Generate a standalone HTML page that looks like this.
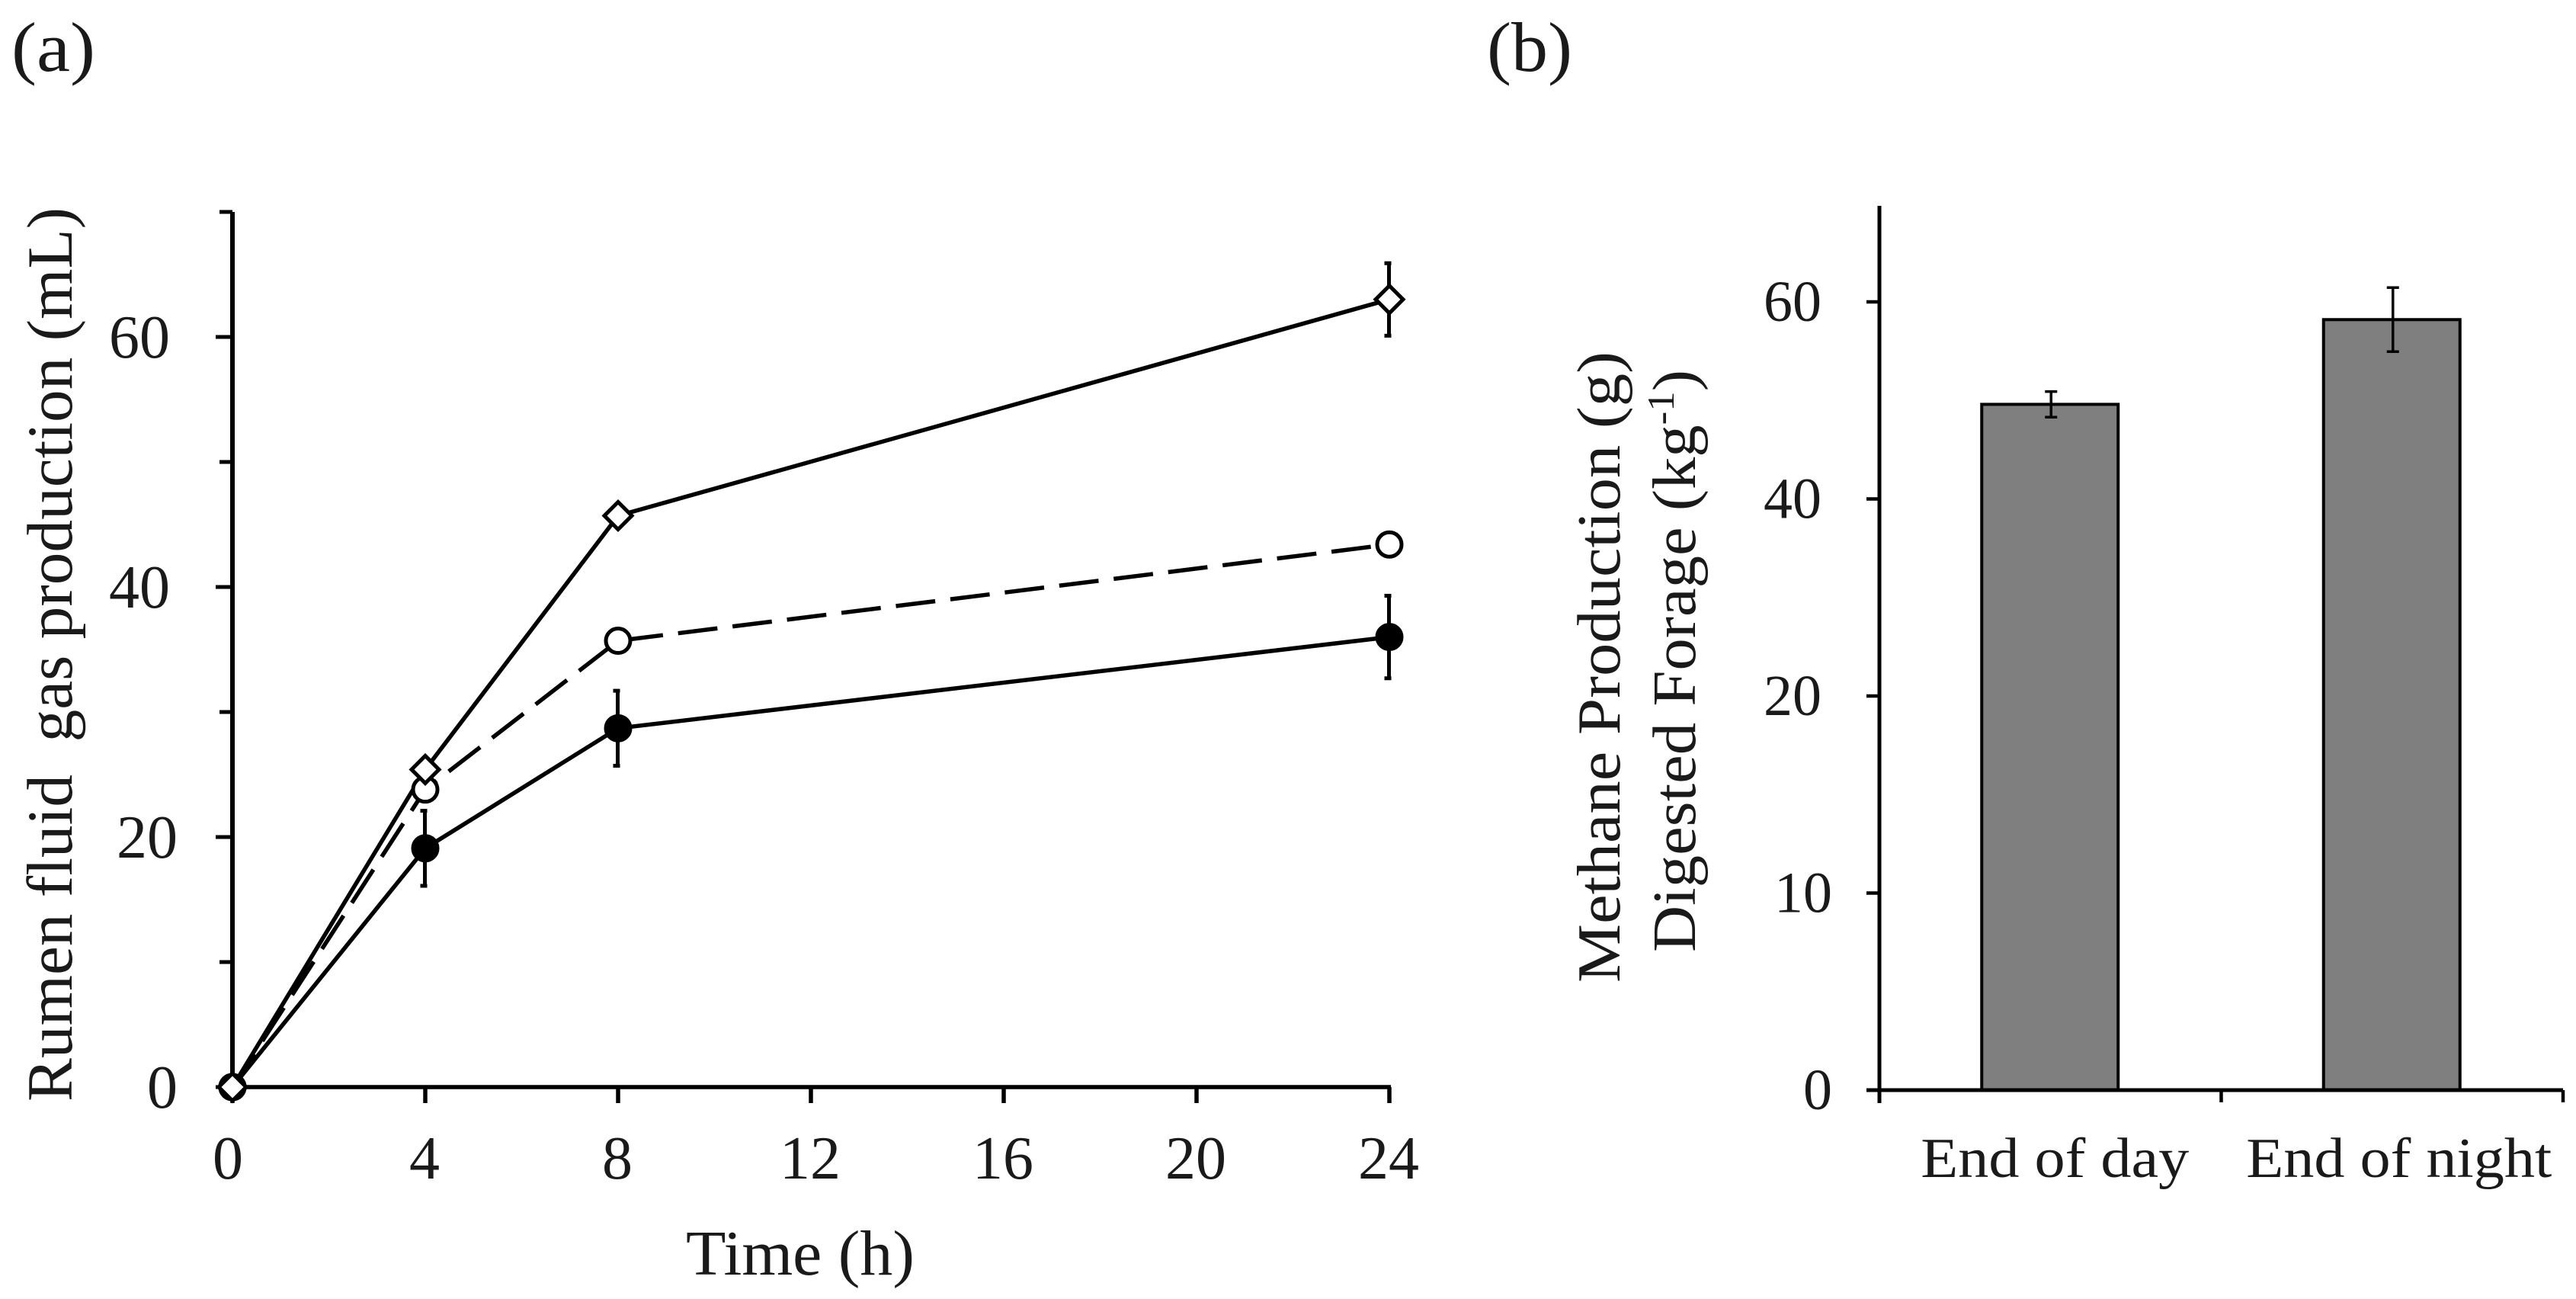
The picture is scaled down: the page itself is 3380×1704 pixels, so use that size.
<!DOCTYPE html>
<html lang="en">
<head>
<meta charset="utf-8">
<title>Rumen fluid gas production and methane production</title>
<style>
  html, body { margin: 0; padding: 0; background: #fff; }
  svg { display: block; }
  text { font-family: "Liberation Serif", "Times New Roman", serif; fill: #1a1a1a; white-space: pre; }
</style>
</head>
<body>
<svg id="figure" xmlns="http://www.w3.org/2000/svg" width="3380" height="1704" viewBox="0 0 3380 1704">
  <rect x="0" y="0" width="3380" height="1704" fill="#fff"/>
  <text x="15" y="93" font-size="92" textLength="110" lengthAdjust="spacingAndGlyphs">(a)</text>
  <text x="1951" y="93" font-size="92" textLength="112" lengthAdjust="spacingAndGlyphs">(b)</text>
  <text transform="translate(94,1445) rotate(-90)" font-size="85" textLength="1173" lengthAdjust="spacingAndGlyphs">Rumen fluid  gas production (mL)</text>
  <text x="900" y="1672" font-size="84" textLength="300" lengthAdjust="spacingAndGlyphs">Time (h)</text>
  <text transform="translate(2125,1289) rotate(-90)" font-size="80" textLength="828" lengthAdjust="spacingAndGlyphs">Methane Production (g)</text>
  <text transform="translate(2224,1249) rotate(-90)" font-size="80" textLength="764" lengthAdjust="spacingAndGlyphs">Digested Forage (kg<tspan font-size="50" dy="-28">-1</tspan><tspan dy="28">)</tspan></text>
  <g id="panel-a"></g>
  <g id="panel-b"></g>
</svg>
<script>
// Panel (a) data
const hourTicks = [0, 4, 8, 12, 16, 20, 24];
const sampleHours = [0, 4, 8, 24];
const gasFilled = [0, 19.1, 28.7, 36.0];
const gasFilledErr = [0, 3.0, 3.0, 3.3];
const gasOpenCircle = [0, 23.8, 35.7, 43.4];
const gasOpenCircleErr = [0, 0, 0, 0];
const gasDiamond = [0, 25.4, 45.7, 63.0];
const gasDiamondErr = [0, 0, 0, 2.9];
const gasMinorTicks = [0, 10, 20, 30, 40, 50, 60, 70];
const gasTickLabels = [0, 20, 40, 60];

// Panel (b) data
const methaneCategories = ['End of day', 'End of night'];
const methaneValues = [49.6, 58.2];
const methaneErrors = [1.3, 3.25];
const methaneTickLabels = [0, 10, 20, 40, 60];

const SVG_NS = 'http://www.w3.org/2000/svg';
function make(parent, tag, attrs, text) {
  const el = document.createElementNS(SVG_NS, tag);
  for (const k in attrs) el.setAttribute(k, attrs[k]);
  if (text !== undefined) el.textContent = text;
  parent.appendChild(el);
  return el;
}

// Panel (a) axes
const pa = document.getElementById('panel-a');
const ax = { x0: 305, stepX: 253, y0: 1426, pxPerUnit: 16.4 };
function xA(h) { return ax.x0 + hourTicks.indexOf(h) * ax.stepX; }
function yA(v) { return ax.y0 - v * ax.pxPerUnit; }

const aAxisY = make(pa, 'line', { x1: xA(0), x2: xA(0), y1: yA(70), y2: yA(0) + 3, stroke: '#000', 'stroke-width': 6 });


const aAxisX = make(pa, 'line', { x1: xA(0), x2: xA(24) + 2, y1: yA(0), y2: yA(0), stroke: '#000', 'stroke-width': 5.5 });



gasMinorTicks.forEach(function (v) {
  const major = gasTickLabels.indexOf(v) >= 0;
  const t = make(pa, 'line', { x1: xA(0), x2: xA(0) - (major ? 22 : 17), y1: yA(v), y2: yA(v), stroke: '#000', 'stroke-width': 5 });
  
  
});
gasTickLabels.forEach(function (v) {
  const right = v >= 40 ? 223 : 233;
  const t = make(pa, 'text', { x: right, y: yA(v) + 27, 'font-size': 80, 'text-anchor': 'end' }, String(v));
  
  
});
hourTicks.forEach(function (h) {
  const t = make(pa, 'line', { x1: xA(h), x2: xA(h), y1: yA(0), y2: yA(0) + 21, stroke: '#000', 'stroke-width': 5.5 });
  
  
  const l = make(pa, 'text', { x: xA(h) - (h === 0 ? 6 : 1), y: 1546, 'font-size': 80, 'text-anchor': 'middle' }, String(h));
  
  
});

function drawLine(values, name, dash) {
  const pts = sampleHours.map(function (h, i) { return xA(h) + ',' + yA(values[i]); }).join(' ');
  const attrs = { points: pts, fill: 'none', stroke: '#000', 'stroke-width': 5.5 };
  if (dash) attrs['stroke-dasharray'] = dash;
  const l = make(pa, 'polyline', attrs);
  
  
}
function drawErrors(values, errors, name) {
  sampleHours.forEach(function (h, i) {
    if (!errors[i]) return;
    const cx = xA(h) - 0.5, hi = yA(values[i] + errors[i]), lo = yA(values[i] - errors[i]);
    const d = 'M' + cx + ' ' + hi + 'V' + lo + 'M' + (cx - 6) + ' ' + hi + 'H' + (cx + 3) + 'M' + (cx - 6) + ' ' + lo + 'H' + (cx + 3);
    const e = make(pa, 'path', { d: d, fill: 'none', stroke: '#000', 'stroke-width': 5 });
    
    
  });
}
function drawCircles(values, fill, name) {
  sampleHours.forEach(function (h, i) {
    const c = make(pa, 'circle', { cx: xA(h), cy: yA(values[i]), r: fill === '#000' ? 18 : 16, fill: fill, stroke: '#000', 'stroke-width': fill === '#000' ? 1 : 5 });
    
    
  });
}
function drawDiamonds(values, name) {
  sampleHours.forEach(function (h, i) {
    const x = xA(h), y = yA(values[i]), r = 18;
    const pts = [x, y - r, x + r, y, x, y + r, x - r, y].join(' ');
    const d = make(pa, 'polygon', { points: pts, fill: '#fff', stroke: '#000', 'stroke-width': 5 });
    
    
  });
}

drawLine(gasFilled, 'series-filled-circle-line');
drawLine(gasOpenCircle, 'series-open-circle-line', '52 20');
drawLine(gasDiamond, 'series-diamond-line');
drawErrors(gasFilled, gasFilledErr, 'series-filled-circle-error-bar');
drawErrors(gasOpenCircle, gasOpenCircleErr, 'series-open-circle-error-bar');
drawErrors(gasDiamond, gasDiamondErr, 'series-diamond-error-bar');
drawCircles(gasFilled, '#000', 'series-filled-circle-point');
drawCircles(gasOpenCircle, '#fff', 'series-open-circle-point');
drawDiamonds(gasDiamond, 'series-diamond-point');

// Panel (b) axes
const pb = document.getElementById('panel-b');
const bx = { x0: 2466, band: 448.5, y0: 1430, step: 258.5 };
function xB(i) { return bx.x0 + (i + 0.5) * bx.band; }
function yB(v) {
  // The printed scale is not uniform (0, 10, 20, 40, 60): ticks are evenly spaced.
  const t = methaneTickLabels;
  let k = 0;
  while (k < t.length - 2 && v > t[k + 1]) k++;
  return bx.y0 - (k + (v - t[k]) / (t[k + 1] - t[k])) * bx.step;
}
const barWidth = 179;
methaneCategories.forEach(function (name, i) {
  const top = yB(methaneValues[i]);
  const b = make(pb, 'rect', { x: xB(i) - barWidth / 2 - 0.5, y: top, width: barWidth, height: yB(0) - top, fill: '#7f7f7f', stroke: '#000', 'stroke-width': 4 });
  
  
  const hi = yB(methaneValues[i] + methaneErrors[i]), lo = yB(methaneValues[i] - methaneErrors[i]), cx = xB(i) + 1;
  const e = make(pb, 'path', { d: 'M' + cx + ' ' + hi + 'V' + lo + 'M' + (cx - 8) + ' ' + hi + 'H' + (cx + 8) + 'M' + (cx - 8) + ' ' + lo + 'H' + (cx + 8), fill: 'none', stroke: '#000', 'stroke-width': 3.5 });
  
  
  const l = make(pb, 'text', { x: xB(i) + (i === 0 ? 6 : 9), y: 1544, 'font-size': 74, 'text-anchor': 'middle', textLength: i === 0 ? 352 : 401, lengthAdjust: 'spacingAndGlyphs' }, name);
  
  
});
const bAxisY = make(pb, 'line', { x1: bx.x0, x2: bx.x0, y1: 270, y2: yB(0) + 17, stroke: '#000', 'stroke-width': 5 });


const bAxisX = make(pb, 'line', { x1: bx.x0 - 17, x2: bx.x0 + 2 * bx.band, y1: yB(0), y2: yB(0), stroke: '#000', 'stroke-width': 5 });


methaneTickLabels.forEach(function (v) {
  const t = make(pb, 'line', { x1: bx.x0, x2: bx.x0 - 17, y1: yB(v), y2: yB(v), stroke: '#000', 'stroke-width': 4.5 });
  
  
  const l = make(pb, 'text', { x: v >= 20 ? 2390 : 2404, y: yB(v) + 25, 'font-size': 76, 'text-anchor': 'end' }, String(v));
  
  
});
[0, 1, 2].forEach(function (i) {
  const px = bx.x0 + i * bx.band;
  const t = make(pb, 'line', { x1: px, x2: px, y1: yB(0), y2: yB(0) + 16, stroke: '#000', 'stroke-width': 4.5 });
  
  
});
</script>
</body>
</html>
